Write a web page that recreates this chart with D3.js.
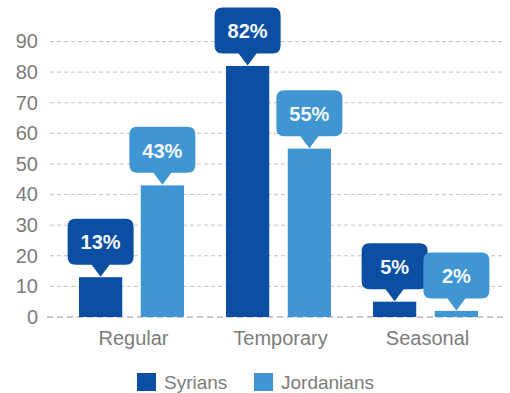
<!DOCTYPE html>
<html>
<head>
<meta charset="utf-8">
<script src="https://cdn.jsdelivr.net/npm/d3@7"></script>
<style>
  html, body { margin: 0; padding: 0; background: #fff; }
  svg { display: block; font-family: "Liberation Sans", Arial, sans-serif; }
</style>
</head>
<body>
<svg id="chart" width="510" height="393"></svg>
<script>
// Employment type by nationality (percent)
const categories = ["Regular", "Temporary", "Seasonal"];
const seriesNames = ["Syrians", "Jordanians"];
const syrians = [13, 82, 5];
const jordanians = [43, 55, 2];
const yTicks = [0, 10, 20, 30, 40, 50, 60, 70, 80, 90];

const colors = { Syrians: "#0b4ea2", Jordanians: "#3f96d2" };
const textGray = "#7c7c7c";

const rows = categories.map((c, i) => ({
  category: c,
  values: [
    { series: "Syrians", value: syrians[i] },
    { series: "Jordanians", value: jordanians[i] }
  ]
}));

const svg = d3.select("#chart");

const y = d3.scaleLinear().domain([0, 90]).range([317, 41.5]);

const x0 = d3.scaleBand()
  .domain(categories)
  .range([58, 499])
  .paddingInner(42 / 147)
  .paddingOuter(21 / 147);

const x1 = d3.scaleBand()
  .domain(seriesNames)
  .range([0, x0.bandwidth()])
  .paddingInner(0.3)
  .paddingOuter(0);

// dashed horizontal gridlines
svg.append("g")
  .selectAll("line")
  .data(yTicks)
  .join("line")
  .attr("x1", d => d === 0 ? 47 : 50)
  .attr("x2", 505)
  .attr("y1", d => y(d))
  .attr("y2", d => y(d))
  .attr("stroke", d => d === 0 ? "#b8b8b8" : "#c4c4c4")
  .attr("stroke-width", d => d === 0 ? 1.5 : 1)
  .attr("stroke-dasharray", d => d === 0 ? "6,4" : "4,3");

// y axis labels
const yAxis = d3.axisLeft(y).tickValues(yTicks).tickSize(0).tickPadding(0);
const yg = svg.append("g").attr("transform", "translate(38,0)").call(yAxis);
yg.select(".domain").remove();
yg.selectAll("text")
  .attr("fill", textGray)
  .attr("font-size", 20)
  .attr("font-family", "Liberation Sans, Arial, sans-serif");

// x axis labels
const xAxis = d3.axisBottom(x0).tickSize(0).tickPadding(0);
const xg = svg.append("g").attr("transform", "translate(2,331)").call(xAxis);
xg.select(".domain").remove();
xg.selectAll("text")
  .attr("fill", textGray)
  .attr("font-size", 20)
  .attr("dy", "0.71em")
  .attr("font-family", "Liberation Sans, Arial, sans-serif");

// bars
const groups = svg.append("g")
  .selectAll("g")
  .data(rows)
  .join("g")
  .attr("transform", d => `translate(${x0(d.category)},0)`);

groups.selectAll("rect")
  .data(d => d.values)
  .join("rect")
  .attr("x", d => x1(d.series))
  .attr("width", x1.bandwidth())
  .attr("y", d => y(d.value))
  .attr("height", d => y(0) - y(d.value))
  .attr("fill", d => colors[d.series]);

// value callouts: rounded box with a pointer down to the bar top
const bw = 66, bh = 46, r = 8, ph = 12, pw = 9;
function calloutPath(cx, tipY) {
  const bottom = tipY - ph;
  const top = bottom - bh;
  const l = cx - bw / 2, rt = cx + bw / 2;
  return [
    `M${l + r},${top}`,
    `H${rt - r}`,
    `Q${rt},${top} ${rt},${top + r}`,
    `V${bottom - r}`,
    `Q${rt},${bottom} ${rt - r},${bottom}`,
    `H${cx + pw}`,
    `L${cx},${tipY}`,
    `L${cx - pw},${bottom}`,
    `H${l + r}`,
    `Q${l},${bottom} ${l},${bottom - r}`,
    `V${top + r}`,
    `Q${l},${top} ${l + r},${top}`,
    "Z"
  ].join(" ");
}

const callouts = groups.selectAll("g.callout")
  .data(d => d.values)
  .join("g")
  .attr("class", "callout");

callouts.append("path")
  .attr("d", d => calloutPath(x1(d.series) + x1.bandwidth() / 2, y(d.value) - 0.5))
  .attr("fill", d => colors[d.series]);

callouts.append("text")
  .attr("x", d => x1(d.series) + x1.bandwidth() / 2)
  .attr("y", d => y(d.value) - ph - bh / 2)
  .attr("dy", "0.36em")
  .attr("text-anchor", "middle")
  .attr("fill", "#f4f8fc")
  .attr("font-size", 20)
  .attr("font-weight", "bold")
  .text(d => `${d.value}%`);

// legend
const legendItems = [
  { name: "Syrians", x: 137 },
  { name: "Jordanians", x: 254 }
];
const legend = svg.append("g")
  .selectAll("g")
  .data(legendItems)
  .join("g")
  .attr("transform", d => `translate(${d.x},373)`);
legend.append("rect")
  .attr("width", 19)
  .attr("height", 18)
  .attr("fill", d => colors[d.name]);
legend.append("text")
  .attr("x", 27)
  .attr("y", 9)
  .attr("dy", "0.36em")
  .attr("fill", textGray)
  .attr("font-size", 19)
  .text(d => d.name);
</script>
</body>
</html>
